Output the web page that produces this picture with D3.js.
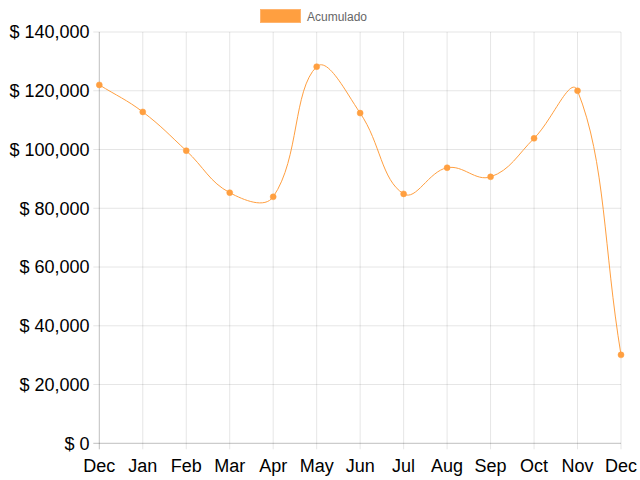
<!DOCTYPE html>
<html><head><meta charset="utf-8">
<script src="https://cdn.jsdelivr.net/npm/d3@7"></script>
<style>html,body{margin:0;padding:0;background:#fff}svg{display:block}</style>
</head><body>
<script>
const categories = ["Dec","Jan","Feb","Mar","Apr","May","Jun","Jul","Aug","Sep","Oct","Nov","Dec"];
const acumulado = [122000,112800,99600,85300,83900,128200,112400,84900,93800,90700,103800,120000,30100];
const yTicks = [0,20000,40000,60000,80000,100000,120000,140000];
const seriesName = "Acumulado";

(function(){
const W=640,H=480;
const pLeft=99.3,pRight=621,pTop=32,pBottom=443.3;
const svg=d3.select("body").append("svg").attr("width",W).attr("height",H);
const font='"Liberation Sans", Arial, Helvetica, sans-serif';

const x=d3.scalePoint().domain(d3.range(categories.length)).range([pLeft,pRight]);
const y=d3.scaleLinear().domain([0,140000]).range([pBottom,pTop]);

const g=svg.append("g");
g.selectAll(".hg").data(yTicks).enter().append("line")
 .attr("x1",pLeft-6).attr("x2",pRight).attr("y1",d=>y(d)).attr("y2",d=>y(d))
 .attr("stroke",d=>d===0?"rgba(0,0,0,0.25)":"rgba(0,0,0,0.1)").attr("stroke-width",1);
g.selectAll(".vg").data(d3.range(categories.length)).enter().append("line")
 .attr("x1",d=>x(d)).attr("x2",d=>x(d)).attr("y1",pTop).attr("y2",pBottom+6)
 .attr("stroke",d=>d===0?"rgba(0,0,0,0.25)":"rgba(0,0,0,0.1)").attr("stroke-width",1);

svg.append("g").selectAll("text").data(yTicks).enter().append("text")
 .attr("x",89.5).attr("y",d=>y(d)).attr("dy","0.35em").attr("text-anchor","end")
 .attr("font-family",font).attr("font-size",18).attr("fill","#000")
 .text(d=>"$ "+d3.format(",")(d));
svg.append("g").selectAll("text").data(categories).enter().append("text")
 .attr("x",(d,i)=>x(i)).attr("y",471.5).attr("text-anchor","middle")
 .attr("font-family",font).attr("font-size",18).attr("fill","#000")
 .text(d=>d);

const pts=acumulado.map((v,i)=>({x:x(i),y:y(v)}));
const t=0.4;
pts.forEach((p,i)=>{
  const pr=pts[i-1]||p, nx=pts[i+1]||p;
  const d01=Math.hypot(p.x-pr.x,p.y-pr.y), d12=Math.hypot(nx.x-p.x,nx.y-p.y);
  let s01=d01/(d01+d12), s12=d12/(d01+d12);
  if(isNaN(s01))s01=0; if(isNaN(s12))s12=0;
  const fa=t*s01, fb=t*s12;
  p.cpx0=p.x-fa*(nx.x-pr.x); p.cpy0=p.y-fa*(nx.y-pr.y);
  p.cpx1=p.x+fb*(nx.x-pr.x); p.cpy1=p.y+fb*(nx.y-pr.y);
  p.cpy0=Math.max(pTop,Math.min(pBottom,p.cpy0));
  p.cpy1=Math.max(pTop,Math.min(pBottom,p.cpy1));
});
const path=d3.path();
path.moveTo(pts[0].x,pts[0].y);
for(let i=1;i<pts.length;i++){
  const a=pts[i-1],b=pts[i];
  path.bezierCurveTo(a.cpx1,a.cpy1,b.cpx0,b.cpy0,b.x,b.y);
}
svg.append("path").attr("d",path.toString()).attr("fill","none")
 .attr("stroke","rgb(255,159,64)").attr("stroke-width",1);
svg.append("g").selectAll("circle").data(acumulado).enter().append("circle")
 .attr("cx",(d,i)=>x(i)).attr("cy",d=>y(d)).attr("r",3)
 .attr("fill","rgb(255,159,64)").attr("stroke","rgba(255,159,64,0.5)").attr("stroke-width",1);

svg.append("rect").attr("x",260.5).attr("y",9.5).attr("width",40).attr("height",13)
 .attr("fill","rgb(255,159,64)").attr("stroke","rgba(255,180,110,1)").attr("stroke-width",1);
svg.append("text").attr("x",307).attr("y",20.5).attr("font-family",font).attr("font-size",12)
 .attr("fill","#666").text(seriesName);
})();
</script>
</body></html>
